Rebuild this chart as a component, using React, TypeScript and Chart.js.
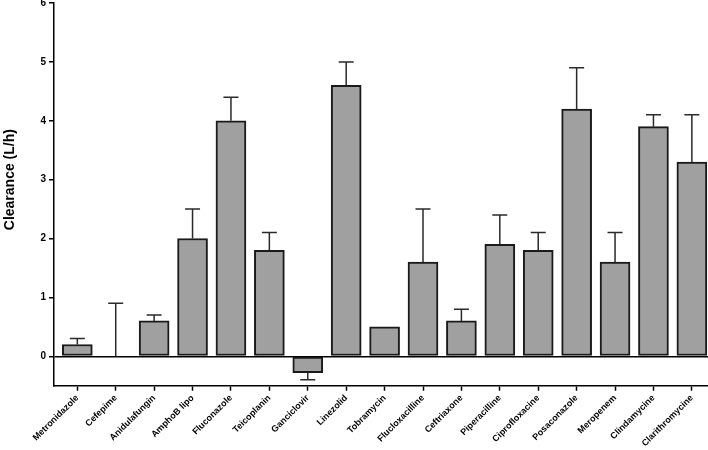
import React, { useEffect, useRef } from "react";
import { Chart, registerables } from "chart.js";

Chart.register(...registerables);

const categories: string[] = [
  "Metronidazole", "Cefepime", "Anidulafungin", "AmphoB lipo", "Fluconazole",
  "Teicoplanin", "Ganciclovir", "Linezolid", "Tobramycin", "Flucloxacilline",
  "Ceftriaxone", "Piperacilline", "Ciprofloxacine", "Posaconazole", "Meropenem",
  "Clindamycine", "Clarithromycine",
];
const clearance: number[] = [
  0.2, 0, 0.6, 2.0, 4.0, 1.8, -0.28, 4.6, 0.5, 1.6, 0.6, 1.9, 1.8, 4.2, 1.6, 3.9, 3.3,
];
const errorSD: number[] = [
  0.1, 0.9, 0.1, 0.5, 0.4, 0.3, 0.12, 0.4, 0, 0.9, 0.2, 0.5, 0.3, 0.7, 0.5, 0.2, 0.8,
];
const yTicks: number[] = [0, 1, 2, 3, 4, 5, 6];
const yTitle = "Clearance (L/h)";

const FONT = "'Liberation Sans', Arial, Helvetica, sans-serif";

const errorBarPlugin = {
  id: "errorBars",
  afterDatasetsDraw(chart: any) {
    const meta = chart.getDatasetMeta(0);
    const yScale = chart.scales.y;
    const ctx = chart.ctx;
    ctx.save();
    ctx.strokeStyle = "#2a2a2a";
    ctx.lineWidth = 1.5;
    meta.data.forEach((bar: any, i: number) => {
      const sd = errorSD[i];
      if (!sd) return;
      const v = clearance[i];
      const end = v < 0 ? v - sd : v + sd;
      const x = bar.x;
      const y0 = yScale.getPixelForValue(v);
      const y1 = yScale.getPixelForValue(end);
      ctx.beginPath();
      ctx.moveTo(x, y0);
      ctx.lineTo(x, y1);
      ctx.moveTo(x - 7.5, y1);
      ctx.lineTo(x + 7.5, y1);
      ctx.stroke();
    });
    ctx.restore();
  },
};

const yTitlePlugin = {
  id: "yTitle",
  afterDraw(chart: any) {
    const yScale = chart.scales.y;
    const ctx = chart.ctx;
    const mid = (yScale.getPixelForValue(yTicks[0]) + yScale.getPixelForValue(yTicks[yTicks.length - 1])) / 2;
    ctx.save();
    ctx.translate(10, mid);
    ctx.rotate(-Math.PI / 2);
    ctx.font = `bold 14px ${FONT}`;
    ctx.fillStyle = "#000";
    ctx.textAlign = "center";
    ctx.textBaseline = "middle";
    ctx.fillText(yTitle, 0, 0);
    ctx.restore();
  },
};

export default function App() {
  const ref = useRef<HTMLCanvasElement>(null);

  useEffect(() => {
    if (!ref.current) return;
    const chart = new Chart(ref.current, {
      type: "bar",
      data: {
        datasets: [
          {
            data: categories.map((_, i) => ({ x: i, y: clearance[i] })),
            backgroundColor: "#a0a0a0",
            borderColor: "#1a1a1a",
            borderWidth: 2,
            borderSkipped: false,
            barThickness: 30,
          },
        ],
      },
      options: {
        responsive: false,
        animation: false,
        layout: { padding: { top: 3, right: 0, left: 0, bottom: 0 } },
        plugins: { legend: { display: false }, tooltip: { enabled: false } },
        scales: {
          x: {
            type: "linear",
            offset: false,
            min: -0.607,
            max: 16.42,
            afterBuildTicks: (axis: any) => {
              axis.ticks = categories.map((_, i) => ({ value: i }));
            },
            afterFit: (axis: any) => {
              axis.height = 64.3;
            },
            border: { display: true, color: "#000", width: 1.5 },
            grid: {
              offset: false,
              drawOnChartArea: false,
              drawTicks: true,
              tickLength: 5,
              tickColor: "#000",
              tickWidth: 1.5,
            },
            ticks: {
              autoSkip: false,
              maxRotation: 45,
              minRotation: 45,
              padding: 2,
              color: "#000",
              font: { family: FONT, size: 9, weight: "bold" },
              callback: (v: any) => categories[Math.round(Number(v))] ?? "",
            },
          },
          y: {
            min: -0.5,
            max: 6,
            afterBuildTicks: (axis: any) => {
              axis.ticks = yTicks.map((v) => ({ value: v }));
            },
            afterFit: (axis: any) => {
              axis.width = 54;
              axis.paddingTop = 0;
              axis.paddingBottom = 0;
            },
            border: { display: true, color: "#000", width: 1.5 },
            grid: {
              drawTicks: true,
              tickLength: 5,
              tickWidth: 1.5,
              tickColor: "#000",
              lineWidth: 1.5,
              color: (c: any) => (c.tick && c.tick.value === 0 ? "#000" : "rgba(0,0,0,0)"),
            },
            ticks: {
              padding: 3,
              color: "#000",
              font: { family: FONT, size: 10, weight: "bold" },
            },
            title: { display: false },
          },
        },
      },
      plugins: [errorBarPlugin, yTitlePlugin],
    } as any);
    return () => chart.destroy();
  }, []);

  return (
    <div style={{ position: "fixed", left: 0, top: 0, width: 708, height: 450, background: "#fff" }}>
      <canvas ref={ref} width={708} height={450} style={{ display: "block" }} />
    </div>
  );
}
